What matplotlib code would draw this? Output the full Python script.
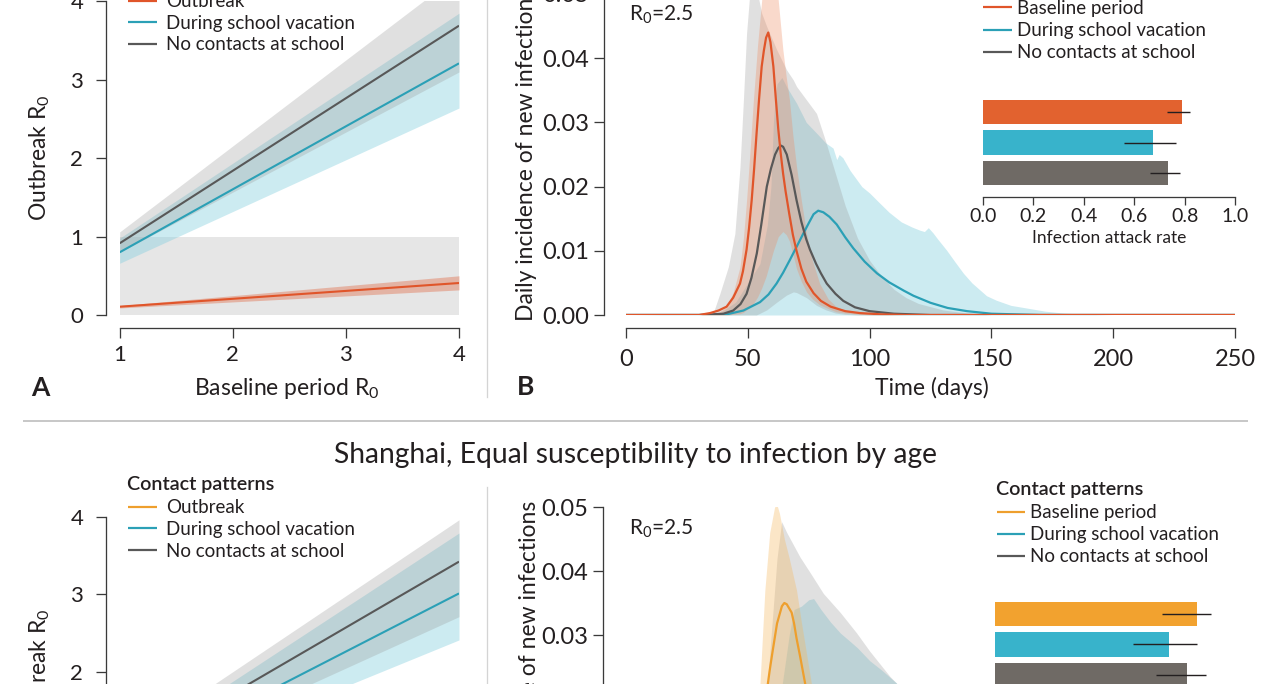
import matplotlib
matplotlib.use("Agg")
import matplotlib.pyplot as plt
from matplotlib.lines import Line2D
from matplotlib.text import Text
from matplotlib import font_manager as fm

# ======================= DATA =======================
legend_title = "Contact patterns"
labels_A = ["Outbreak", "During school vacation", "No contacts at school"]
labels_B = ["Baseline period", "During school vacation", "No contacts at school"]
section_title = "Shanghai, Equal susceptibility to infection by age"

# Panel A axes
r0_ticks = [1, 2, 3, 4]
r0_ticklabels = ["1", "2", "3", "4"]
out_ticks = [0, 1, 2, 3, 4]
out_ticklabels = ["0", "1", "2", "3", "4"]
subcritical = [0, 1]          # shaded region R0 < 1

baseline_r0 = [1, 4]
# top panel A (age-specific susceptibility)
topA_outbreak = [0.106, 0.408]
topA_outbreak_lo = [0.09, 0.32]
topA_outbreak_hi = [0.12, 0.50]
topA_vac = [0.80, 3.21]
topA_vac_lo = [0.66, 2.64]
topA_vac_hi = [0.98, 3.85]
topA_nos = [0.915, 3.69]
topA_nos_lo = [0.80, 3.10]
topA_nos_hi = [1.06, 4.35]
# bottom panel A (equal susceptibility)
botA_outbreak = [0.10, 0.40]
botA_outbreak_lo = [0.08, 0.32]
botA_outbreak_hi = [0.12, 0.48]
botA_vac = [0.76, 3.01]
botA_vac_lo = [0.62, 2.41]
botA_vac_hi = [0.92, 3.79]
botA_nos = [0.87, 3.42]
botA_nos_lo = [0.72, 2.71]
botA_nos_hi = [1.02, 3.96]

# Panel B axes
time_ticks = [0, 50, 100, 150, 200, 250]
time_ticklabels = ["0", "50", "100", "150", "200", "250"]
inc_ticks = [0, 0.01, 0.02, 0.03, 0.04, 0.05]
inc_ticklabels = ["0.00", "0.01", "0.02", "0.03", "0.04", "0.05"]

# ---- top panel B: mean curves
t_top_base = [0, 30, 34.5, 38, 41.3, 44, 46.8, 48, 49.5, 50.5, 51.6, 52.6, 53.6, 54.6, 55.7,
              56.6, 57.5, 58.4, 59.3, 60.5, 61.5, 62.5, 63.5, 64.5, 65.5, 67, 68.5, 70, 72, 74,
              77, 80, 84, 90, 96, 105, 115, 250]
top_base = [0, 0, 0.0003, 0.0007, 0.0013, 0.0027, 0.0049, 0.0068, 0.0102, 0.0135, 0.0179,
            0.0228, 0.0283, 0.0335, 0.0387, 0.0412, 0.0432, 0.0440, 0.0425, 0.0387, 0.0337,
            0.0290, 0.0252, 0.0220, 0.0193, 0.0158, 0.0125, 0.0100, 0.0072, 0.0052, 0.0034,
            0.0022, 0.0013, 0.0006, 0.0003, 0.0001, 0, 0]
t_top_nos = [0, 30, 40, 44, 47, 49.5, 51.5, 53.7, 55.5, 57.8, 59.5, 61.2, 62.5, 63.5, 64.5, 66,
             68, 70, 72, 74, 75.5, 78, 80, 82.4, 86, 89.2, 94, 100, 110, 125, 250]
top_nos = [0, 0, 0.0002, 0.0007, 0.0017, 0.0033, 0.0058, 0.0096, 0.0140, 0.0200, 0.0228,
           0.0250, 0.0260, 0.0264, 0.0262, 0.0250, 0.0218, 0.0179, 0.0145, 0.0118, 0.0102,
           0.0080, 0.0065, 0.0049, 0.0033, 0.0022, 0.0012, 0.0006, 0.0002, 0, 0]
t_top_vac = [0, 35, 41.3, 48.2, 55, 58.5, 61.8, 64.5, 67.3, 70, 72.8, 75, 77, 78.9, 81, 83.5,
             86.5, 90, 93.3, 98, 103, 108, 114, 118, 125, 132, 140, 150, 160, 170, 250]
top_vac = [0, 0, 0.0001, 0.0007, 0.0020, 0.0032, 0.0049, 0.0066, 0.0086, 0.0106, 0.0127,
           0.0143, 0.0157, 0.01625, 0.0160, 0.0153, 0.0141, 0.0121, 0.0104, 0.0083, 0.0065,
           0.0051, 0.0038, 0.0030, 0.0019, 0.0011, 0.0006, 0.0002, 0.0001, 0, 0]

# ---- top panel B: uncertainty bands
t_top_base_band = [0, 30, 38, 41.3, 44, 46.8, 48.2, 49.5, 51, 52.3, 54, 55.7, 57.5, 59, 60.5,
                   62.5, 64.4, 65.8, 67.1, 68.5, 70, 72, 74.1, 76.5, 79.5, 83, 86.3, 90, 96,
                   105, 115, 250]
top_base_hi = [0, 0, 0.0004, 0.0013, 0.0035, 0.0075, 0.0120, 0.0179, 0.026, 0.0335, 0.042,
               0.049, 0.055, 0.057, 0.055, 0.049, 0.0413, 0.037, 0.0335, 0.028, 0.0231,
               0.0178, 0.0127, 0.0085, 0.0049, 0.0025, 0.0013, 0.0007, 0.0003, 0.0001, 0, 0]
top_base_lo = [0, 0, 0, 0, 0.0001, 0.0002, 0.0004, 0.0008, 0.0012, 0.0018, 0.0028, 0.0042,
               0.0060, 0.0080, 0.0100, 0.0122, 0.0130, 0.0125, 0.0115, 0.0095, 0.0072, 0.0052,
               0.0036, 0.0025, 0.0016, 0.0010, 0.0005, 0.0003, 0.0001, 0, 0, 0]
t_top_nos_band = [0, 30, 35.8, 38.5, 42, 44.7, 46.8, 48.2, 49.5, 51, 52, 53.5, 55.7, 57.8, 61.9,
                  65.9, 68.7, 70, 74.1, 78.2, 82, 86, 90, 95, 100, 105, 110, 115, 120, 130, 140,
                  150, 250]
top_nos_hi = [0, 0, 0.0003, 0.0033, 0.0075, 0.0127, 0.0231, 0.0335, 0.0439, 0.0510, 0.0530,
              0.0510, 0.0470, 0.0449, 0.0413, 0.0382, 0.0366, 0.0356, 0.0335, 0.0314, 0.0270,
              0.0220, 0.0170, 0.0120, 0.0085, 0.0060, 0.0040, 0.0027, 0.0018, 0.0008, 0.0003,
              0, 0]
top_nos_lo = [0, 0, 0, 0, 0, 0, 0, 0, 0, 0, 0, 0, 0.0004, 0.0008, 0.0020, 0.0031, 0.0036,
              0.0035, 0.0027, 0.0015, 0.0008, 0.0003, 0.0001, 0, 0, 0, 0, 0, 0, 0, 0, 0, 0]
t_top_vac_band = [0, 38, 45, 50, 55, 58, 59.5, 60.5, 61.3, 62, 64, 66, 70, 74, 78.3, 82, 85,
                  86.5, 87.5, 89, 92, 96.8, 100, 103.7, 108, 113, 117.4, 120.7, 122.5, 124.1,
                  126, 128, 131.6, 135, 138.5, 142, 145.3, 148, 152, 158, 165.8, 172, 179.5,
                  190, 200, 250]
top_vac_hi = [0, 0.0002, 0.002, 0.005, 0.008, 0.014, 0.020, 0.030, 0.034, 0.036, 0.037,
              0.0355, 0.033, 0.030, 0.0283, 0.0268, 0.0260, 0.0242, 0.0250, 0.0245, 0.0225,
              0.0200, 0.0190, 0.0176, 0.0160, 0.0145, 0.0137, 0.0132, 0.0130, 0.0136, 0.0128,
              0.0118, 0.0101, 0.0083, 0.0065, 0.0050, 0.0039, 0.0030, 0.0023, 0.0015, 0.0010,
              0.0006, 0.0003, 0.0001, 0, 0]   # lower bound of this band is 0

# ---- bottom panel B
t_bot_base = [0, 30, 40, 45, 50, 54, 57, 59, 60, 62, 64, 65, 66, 68, 69, 70, 71.5, 73.5, 76,
              80, 85, 90, 100, 110, 120, 250]
bot_base = [0, 0, 0.001, 0.003, 0.007, 0.013, 0.019, 0.0245, 0.027, 0.0318, 0.0345, 0.0350,
            0.0348, 0.0335, 0.0318, 0.0295, 0.0266, 0.0225, 0.017, 0.010, 0.005, 0.0025,
            0.0006, 0.0001, 0, 0]
t_bot_nos = [0, 30, 45, 55, 62, 68, 72, 76, 82, 90, 100, 115, 130, 250]
bot_nos = [0, 0, 0.002, 0.008, 0.015, 0.020, 0.021, 0.020, 0.016, 0.010, 0.005, 0.0015,
           0.0003, 0]
t_bot_vac = [0, 35, 50, 60, 70, 78, 86, 94, 105, 120, 140, 160, 250]
bot_vac = [0, 0, 0.002, 0.005, 0.010, 0.014, 0.0155, 0.014, 0.010, 0.005, 0.0015, 0.0003, 0]

t_bot_base_band = [0, 35, 45, 50, 53, 55, 57, 59, 61, 62, 63, 65, 67, 70, 72, 75, 78, 82, 88,
                   95, 105, 115, 250]
bot_base_hi = [0, 0, 0.002, 0.008, 0.016, 0.0224, 0.037, 0.046, 0.050, 0.0503, 0.049, 0.045,
               0.042, 0.037, 0.032, 0.025, 0.018, 0.011, 0.005, 0.0015, 0.0003, 0, 0]
bot_base_lo = [0, 0, 0, 0.001, 0.002, 0.003, 0.005, 0.007, 0.009, 0.010, 0.011, 0.013, 0.014,
               0.015, 0.014, 0.012, 0.009, 0.006, 0.003, 0.001, 0.0002, 0, 0]
t_bot_nos_band = [0, 35, 45, 50, 55, 58, 60, 62, 63.9, 66, 71.4, 76, 81, 88, 94.7, 100, 108.4,
                  111, 115, 120, 130, 140, 150, 160, 175, 190, 250]
bot_nos_hi = [0, 0, 0.003, 0.006, 0.012, 0.022, 0.032, 0.042, 0.0477, 0.0460, 0.0422, 0.0395,
              0.0365, 0.0335, 0.0303, 0.0275, 0.0235, 0.0225, 0.020, 0.016, 0.010, 0.006,
              0.003, 0.0015, 0.0005, 0, 0]
t_bot_vac_band = [0, 40, 55, 60, 64, 67, 69, 72, 75, 77, 80, 84, 88, 92, 95, 100, 105, 111,
                  118, 125, 135, 145, 155, 170, 185, 200, 250]
bot_vac_hi = [0, 0, 0.006, 0.013, 0.022, 0.030, 0.034, 0.0345, 0.0355, 0.0357, 0.034, 0.032,
              0.0303, 0.029, 0.028, 0.026, 0.0245, 0.0225, 0.019, 0.015, 0.010, 0.006, 0.003,
              0.001, 0.0002, 0, 0]

# Inset: infection attack rate
attack_ticks = [0, 0.2, 0.4, 0.6, 0.8, 1.0]
attack_ticklabels = ["0.0", "0.2", "0.4", "0.6", "0.8", "1.0"]
top_attack = [0.788, 0.676, 0.734]
top_attack_lo = [0.729, 0.561, 0.663]
top_attack_hi = [0.821, 0.766, 0.782]
bot_attack = [0.800, 0.689, 0.760]
bot_attack_lo = [0.661, 0.549, 0.639]
bot_attack_hi = [0.856, 0.803, 0.836]

# ======================= STYLE =======================
W, H, DPI = 1280, 684, 100
PT = 72 / DPI

names = {f.name for f in fm.fontManager.ttflist}
MAIN = "Lato" if "Lato" in names else "DejaVu Sans"
NARROW = "Liberation Sans Narrow" if "Liberation Sans Narrow" in names else MAIN
plt.rcParams["font.family"] = [MAIN, "DejaVu Sans"]
plt.rcParams["mathtext.fontset"] = "custom"
plt.rcParams["mathtext.rm"] = MAIN
plt.rcParams["mathtext.it"] = MAIN + ":italic"
plt.rcParams["mathtext.bf"] = MAIN + ":bold"

INK = "#231f20"
AXC = "#3a3a3a"
ORANGE = "#e0552a"
YELLOW = "#ee9f2d"
BLUE = "#2ba0b6"
GRAY = "#585858"
BAR_ORANGE = "#e2622f"
BAR_YELLOW = "#f2a22f"
BAR_BLUE = "#38b3cb"
BAR_GRAY = "#6f6a65"
GRAY_BAND = dict(color="#9a9a9a", alpha=0.30, lw=0)
BLUE_BAND = dict(color="#86d0df", alpha=0.42, lw=0)

LEG_SIZE = 13.5
TITLE_SIZE = 14.2
LABEL_SIZE = 16.5

fig = plt.figure(figsize=(W / DPI, H / DPI), dpi=DPI)
fig.patch.set_facecolor("white")


def add_ax(x0, x1, ytop, ybot):
    return fig.add_axes([x0 / W, 1 - ybot / H, (x1 - x0) / W, (ybot - ytop) / H])


def ftext(x, y, s, **kw):
    kw.setdefault("color", INK)
    return fig.text(x / W, 1 - y / H, s, **kw)


def r_axes(ax, xlim, ylim, xticks, yticks, xlabels, ylabels, xoff, yoff, font, size, xpad, ypad):
    ax.set_xlim(*xlim)
    ax.set_ylim(*ylim)
    ax.patch.set_visible(False)
    for s in ("top", "right"):
        ax.spines[s].set_visible(False)
    ax.spines["left"].set_position(("outward", xoff * PT))
    ax.spines["bottom"].set_position(("outward", yoff * PT))
    ax.spines["left"].set_bounds(yticks[0], yticks[-1])
    ax.spines["bottom"].set_bounds(xticks[0], xticks[-1])
    for s in ("left", "bottom"):
        ax.spines[s].set_color(AXC)
        ax.spines[s].set_linewidth(1.3 * PT)
    ax.set_xticks(xticks, labels=xlabels, fontfamily=font, fontsize=size, color=INK)
    ax.set_yticks(yticks, labels=ylabels, fontfamily=font, fontsize=size, color=INK)
    ax.tick_params(axis="both", direction="out", length=10 * PT, width=1.3 * PT, color=AXC)
    ax.tick_params(axis="x", pad=xpad)
    ax.tick_params(axis="y", pad=ypad)


def legend(x_l0, x_l1, x_t, y_first, dy, labels, colors):
    cap = 0.72 * LEG_SIZE / PT
    for i, (lab, c) in enumerate(zip(labels, colors)):
        y = y_first + i * dy
        fig.add_artist(Line2D([x_l0 / W, x_l1 / W], [1 - y / H, 1 - y / H],
                              color=c, lw=2.2 * PT, solid_capstyle="butt"))
        ftext(x_t, y + cap / 2, lab, fontsize=LEG_SIZE, va="baseline", ha="left")
    ftext(x_l0 - 1, y_first - 16.7, legend_title, fontsize=TITLE_SIZE,
          fontweight="semibold", va="baseline", ha="left")


def panel_A(ax, outb, outb_lo, outb_hi, vac, vac_lo, vac_hi, nos, nos_lo, nos_hi, c_out):
    ax.fill_between(baseline_r0, subcritical[0], subcritical[1], color="#e6e6e6", lw=0, zorder=0)
    ax.fill_between(baseline_r0, vac_lo, vac_hi, zorder=1, **BLUE_BAND)
    ax.fill_between(baseline_r0, nos_lo, nos_hi, zorder=1, **GRAY_BAND)
    ax.fill_between(baseline_r0, outb_lo, outb_hi, color=c_out, alpha=0.35, lw=0, zorder=1)
    ax.plot(baseline_r0, outb, color=c_out, lw=1.5, zorder=3, solid_capstyle="butt")
    ax.plot(baseline_r0, vac, color=BLUE, lw=1.5, zorder=3, solid_capstyle="butt")
    ax.plot(baseline_r0, nos, color=GRAY, lw=1.5, zorder=3, solid_capstyle="butt")


def inset(x0, ytop, vals, lo, hi, colors):
    ax = add_ax(x0, x0 + 252, ytop, ytop + 100)
    pos = [3, 2, 1]
    ax.barh(pos, vals, height=0.8, color=colors, lw=0)
    ax.hlines(pos, lo, hi, color=INK, lw=1.4 * PT)
    ax.set_xlim(0, 1)
    ax.set_ylim(0.224, 3.5)
    ax.patch.set_visible(False)
    for s in ("top", "right", "left"):
        ax.spines[s].set_visible(False)
    ax.spines["bottom"].set_bounds(0, 1)
    ax.spines["bottom"].set_color(AXC)
    ax.spines["bottom"].set_linewidth(1.3 * PT)
    ax.set_yticks([])
    ax.set_xticks(attack_ticks, labels=attack_ticklabels, fontfamily=NARROW, fontsize=14,
                  color=INK)
    ax.tick_params(axis="x", direction="out", length=7.7 * PT, width=1.3 * PT, color=AXC, pad=2.5)
    return ax


# ======================= TOP ROW =======================
axA = add_ax(119.7, 459, 1.4, 315)
r_axes(axA, (1, 4), (0, 4), r0_ticks, out_ticks, r0_ticklabels, out_ticklabels,
       13.7, 13.3, MAIN, 16, 4.8, 9.1)
panel_A(axA, topA_outbreak, topA_outbreak_lo, topA_outbreak_hi, topA_vac, topA_vac_lo,
        topA_vac_hi, topA_nos, topA_nos_lo, topA_nos_hi, ORANGE)
legend(128.3, 157.3, 165.7, 0.7, 21.5, labels_A, [ORANGE, BLUE, GRAY])
ftext(287, 395, r"Baseline period R$_0$", fontsize=LABEL_SIZE, ha="center", va="baseline")
ftext(46.7, 158, r"Outbreak R$_0$", fontsize=LABEL_SIZE, ha="center", va="baseline",
      rotation=90, rotation_mode="anchor")
ftext(30.7, 396, "A", fontsize=19, fontweight="bold", va="baseline", ha="left")

axB = add_ax(626, 1235, -6.0, 315)
r_axes(axB, (0, 250), (0, 0.05), time_ticks, inc_ticks, time_ticklabels, inc_ticklabels,
       21.7, 13.3, NARROW, 17, 8.0, 3.8)
axB.fill_between(t_top_vac_band, top_vac_hi, **BLUE_BAND)
axB.fill_between(t_top_nos_band, top_nos_lo, top_nos_hi, **GRAY_BAND)
axB.fill_between(t_top_base_band, top_base_lo, top_base_hi, color="#ee8c63", alpha=0.33, lw=0)
axB.plot(t_top_vac, top_vac, color=BLUE, lw=1.6)
axB.plot(t_top_nos, top_nos, color=GRAY, lw=1.6)
axB.plot(t_top_base, top_base, color=ORANGE, lw=1.6)
ftext(629.3, 20.7, r"R$_0$=2.5", fontsize=15, va="baseline", ha="left")
legend(982.7, 1011.7, 1016.7, 7.3, 22.2, labels_B, [ORANGE, BLUE, GRAY])
inset(983, 96.9, top_attack, top_attack_lo, top_attack_hi, [BAR_ORANGE, BAR_BLUE, BAR_GRAY])
ftext(1109, 243.3, "Infection attack rate", fontsize=12.5, ha="center", va="baseline")
ftext(932, 395, "Time (days)", fontsize=LABEL_SIZE, ha="center", va="baseline")
ftext(533.3, 154.5, "Daily incidence of new infections", fontsize=LABEL_SIZE, ha="center",
      va="baseline", rotation=90, rotation_mode="anchor")
ftext(516.7, 395, "B", fontsize=19, fontweight="bold", va="baseline", ha="left")

# separators
fig.add_artist(Line2D([24 / W, 1247 / W], [1 - 420.5 / H, 1 - 420.5 / H], color="#c8c8c8",
                      lw=2.0 * PT))
fig.add_artist(Line2D([487 / W, 487 / W], [1.0, 1 - 397 / H], color="#d4d4d4", lw=1.3 * PT))
fig.add_artist(Line2D([487 / W, 487 / W], [1 - 487 / H, 0.0], color="#d4d4d4", lw=1.3 * PT))

ftext(635, 462.7, section_title, fontsize=20.3, ha="center", va="baseline")

# ======================= BOTTOM ROW =======================
axA2 = add_ax(119.7, 459, 516.7, 826.7)
r_axes(axA2, (1, 4), (0, 4), r0_ticks, out_ticks, r0_ticklabels, out_ticklabels,
       13.7, 13.3, MAIN, 16, 4.8, 9.1)
panel_A(axA2, botA_outbreak, botA_outbreak_lo, botA_outbreak_hi, botA_vac, botA_vac_lo,
        botA_vac_hi, botA_nos, botA_nos_lo, botA_nos_hi, YELLOW)
legend(128.3, 157.3, 165.7, 506.7, 21.7, labels_A, [YELLOW, BLUE, GRAY])
ftext(46.7, 671.7, r"Outbreak R$_0$", fontsize=LABEL_SIZE, ha="center", va="baseline",
      rotation=90, rotation_mode="anchor")

axB2 = add_ax(626, 1235, 507, 827)
r_axes(axB2, (0, 250), (0, 0.05), time_ticks, inc_ticks, time_ticklabels, inc_ticklabels,
       22.7, 13.3, NARROW, 17, 8.0, 3.8)
axB2.fill_between(t_bot_vac_band, bot_vac_hi, **BLUE_BAND)
axB2.fill_between(t_bot_nos_band, bot_nos_hi, **GRAY_BAND)
axB2.fill_between(t_bot_base_band, bot_base_lo, bot_base_hi, color="#f5b860", alpha=0.35, lw=0)
axB2.plot(t_bot_vac, bot_vac, color=BLUE, lw=1.6)
axB2.plot(t_bot_nos, bot_nos, color=GRAY, lw=1.6)
axB2.plot(t_bot_base, bot_base, color=YELLOW, lw=1.6)
ftext(629.3, 535, r"R$_0$=2.5", fontsize=15, va="baseline", ha="left")
legend(996.7, 1025, 1030, 511.7, 22.0, labels_B, [YELLOW, BLUE, GRAY])
inset(995, 598.6, bot_attack, bot_attack_lo, bot_attack_hi, [BAR_YELLOW, BAR_BLUE, BAR_GRAY])
ftext(536, 667, "Daily incidence of new infections", fontsize=LABEL_SIZE, ha="center",
      va="baseline", rotation=90, rotation_mode="anchor")

# texts lying wholly outside the cropped canvas are not shown in the reference
fig.canvas.draw()
renderer = fig.canvas.get_renderer()
for t in fig.findobj(Text):
    if not t.get_visible() or not t.get_text():
        continue
    bb = t.get_window_extent(renderer)
    if bb.x1 <= 0 or bb.x0 >= W or bb.y1 <= 0 or bb.y0 >= H:
        t.set_visible(False)

fig.savefig("out.png", dpi=DPI, facecolor="white")
